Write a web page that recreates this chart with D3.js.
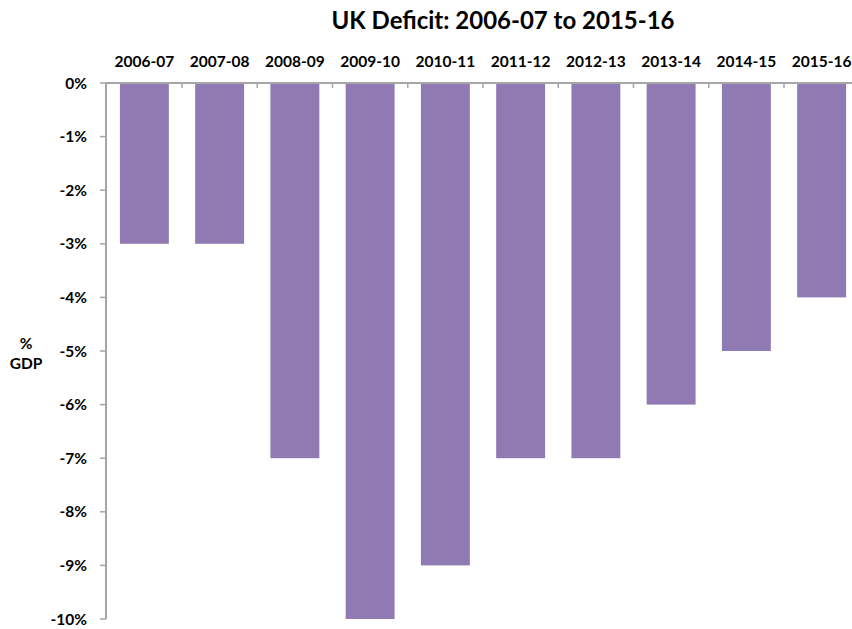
<!DOCTYPE html>
<html><head><meta charset="utf-8">
<script src="https://cdn.jsdelivr.net/npm/d3@7"></script>
<style>body{margin:0;background:#fff}svg{display:block}text{font-family:Lato,"Open Sans",sans-serif;font-weight:bold;fill:#000}</style>
</head><body>
<script>
const categories=["2006-07","2007-08","2008-09","2009-10","2010-11","2011-12","2012-13","2013-14","2014-15","2015-16"];
const values=[-3,-3,-7,-10,-9,-7,-7,-6,-5,-4];
const yTicks=[0,-1,-2,-3,-4,-5,-6,-7,-8,-9,-10];
const title="UK Deficit: 2006-07 to 2015-16";

const W=852,H=629;
const svg=d3.select("body").append("svg").attr("width",W).attr("height",H);
const x=d3.scaleBand().domain(categories).range([106.75,859.25]).paddingInner(0.35).paddingOuter(0.175);
const y=d3.scaleLinear().domain([0,-10]).range([83,619]);
const xb=d3.scaleBand().domain(categories).range([106.75,859.25]);

svg.append("text").attr("x",503).attr("y",29).attr("text-anchor","middle").style("font-size","24px").text(title);

svg.selectAll("rect.bar").data(values).join("rect").attr("class","bar")
 .attr("x",(d,i)=>x(categories[i])).attr("width",x.bandwidth())
 .attr("y",y(0)).attr("height",d=>y(d)-y(0)).attr("fill","#8f7ab3");

// top x axis
const gx=svg.append("g").attr("transform",`translate(0,${y(0)})`);
gx.append("line").attr("x1",106).attr("x2",W).attr("y1",0).attr("y2",0).attr("stroke","#a6a6a6").attr("stroke-width",2);
gx.selectAll("line.t").data(categories.slice(1)).join("line").attr("class","t")
 .attr("x1",d=>xb(d)).attr("x2",d=>xb(d)).attr("y1",0).attr("y2",5).attr("stroke","#a6a6a6").attr("stroke-width",1.5);
gx.selectAll("text").data(categories).join("text")
 .attr("x",d=>xb(d)+xb.bandwidth()/2).attr("y",-16).attr("text-anchor","middle").style("font-size","15.5px").text(d=>d);

// y axis
const gy=svg.append("g").attr("transform","translate(106,0)");
gy.append("line").attr("x1",0).attr("x2",0).attr("y1",y(0)).attr("y2",y(-10)).attr("stroke","#a6a6a6").attr("stroke-width",2);
gy.selectAll("line.t").data(yTicks).join("line").attr("class","t")
 .attr("x1",-6).attr("x2",0).attr("y1",d=>y(d)).attr("y2",d=>y(d)).attr("stroke","#a6a6a6").attr("stroke-width",1.5);
gy.selectAll("text").data(yTicks).join("text")
 .attr("x",-19).attr("y",d=>y(d)+5.5).attr("text-anchor","end").style("font-size","15.5px").text(d=>d+"%");

svg.append("text").attr("x",26).attr("y",349).attr("text-anchor","middle").style("font-size","15.5px").text("%");
svg.append("text").attr("x",26).attr("y",369).attr("text-anchor","middle").style("font-size","15.5px").text("GDP");
</script>
</body></html>
